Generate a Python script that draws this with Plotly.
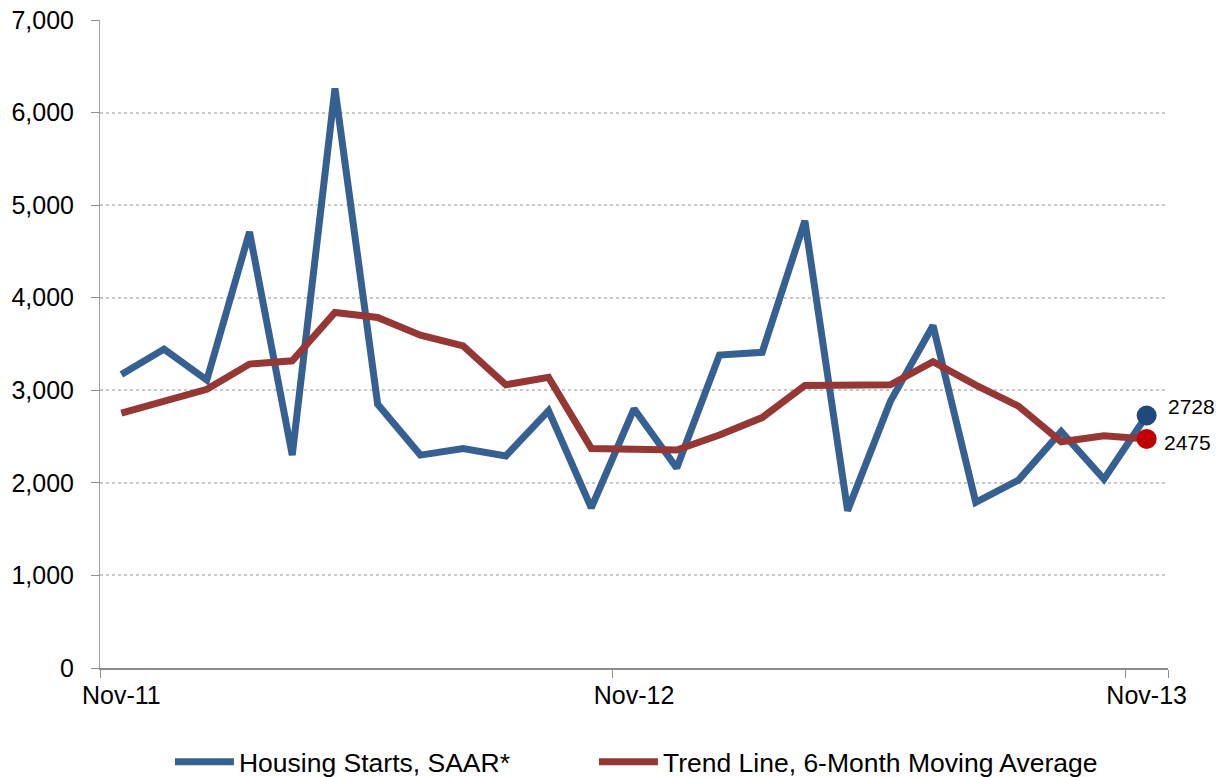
import plotly.graph_objects as go

months = ["Nov-11", "Dec-11", "Jan-12", "Feb-12", "Mar-12", "Apr-12", "May-12", "Jun-12",
          "Jul-12", "Aug-12", "Sep-12", "Oct-12", "Nov-12", "Dec-12", "Jan-13", "Feb-13",
          "Mar-13", "Apr-13", "May-13", "Jun-13", "Jul-13", "Aug-13", "Sep-13", "Oct-13", "Nov-13"]

housing_starts = [3170, 3445, 3110, 4710, 2300, 6260, 2850, 2300, 2370, 2290,
                  2780, 1730, 2800, 2160, 3380, 3410, 4830, 1700, 2880, 3700,
                  1790, 2030, 2555, 2040, 2728]

trend_line = [2754, 2887, 3010, 3283, 3319, 3841, 3787, 3596, 3479, 3060,
              3139, 2372, 2372, 2354, 2516, 2705, 3052, 3056, 3060, 3308,
              3056, 2829, 2444, 2509, 2475]

tick_labels = ["Nov-11", "Nov-12", "Nov-13"]
last_starts_label = "2728"
last_trend_label = "2475"

FONT = "Arial, Liberation Sans, sans-serif"
BLUE = "#376092"
RED = "#953735"

fig = go.Figure()
fig.add_trace(go.Scatter(x=months, y=housing_starts, mode="lines",
                         name="Housing Starts, SAAR*", legend="legend",
                         line=dict(color=BLUE, width=7, shape="linear")))
fig.add_trace(go.Scatter(x=months, y=trend_line, mode="lines",
                         name="Trend Line, 6-Month Moving Average", legend="legend2",
                         line=dict(color=RED, width=7)))
fig.add_trace(go.Scatter(x=[months[-1]], y=[housing_starts[-1]], mode="markers",
                         marker=dict(color="#1F497D", size=20), showlegend=False,
                         cliponaxis=False))
fig.add_trace(go.Scatter(x=[months[-1]], y=[trend_line[-1]], mode="markers",
                         marker=dict(color="#C00000", size=20), showlegend=False,
                         cliponaxis=False))

fig.add_annotation(x=months[-1], y=housing_starts[-1], text=last_starts_label,
                   showarrow=False, xanchor="left", yanchor="middle",
                   xshift=19, yshift=9, font=dict(family=FONT, size=21, color="black"))
fig.add_annotation(x=months[-1], y=trend_line[-1], text=last_trend_label,
                   showarrow=False, xanchor="left", yanchor="middle",
                   xshift=15, yshift=-4, font=dict(family=FONT, size=21, color="black"))

legend_style = dict(orientation="h", yanchor="middle", y=-0.145, xanchor="left",
                    font=dict(family=FONT, size=26.5, color="black"), itemwidth=59,
                    bgcolor="rgba(0,0,0,0)")

# Figure is slightly larger than the window so the bottom legend does not push margins.
fig.update_layout(
    width=1240, height=800,
    margin=dict(l=100, r=72, t=20, b=132),
    paper_bgcolor="white", plot_bgcolor="white",
    font=dict(family=FONT, size=25, color="black"),
    showlegend=True,
    legend=dict(legend_style, x=0.0655),
    legend2=dict(legend_style, x=0.4625),
)

fig.update_xaxes(
    type="category", categoryorder="array", categoryarray=months,
    range=[-0.5, len(months) - 0.5],
    tickmode="array", tickvals=tick_labels, ticktext=tick_labels, tickangle=0,
    tickson="boundaries", ticks="outside", ticklen=8, tickwidth=1, tickcolor="#8c8c8c",
    showline=True, linecolor="#8c8c8c", linewidth=2,
    showgrid=False, zeroline=False, automargin=False, ticklabelstandoff=4,
    ticklabeloverflow="allow",
    tickfont=dict(family=FONT, size=25, color="black"),
)

fig.update_yaxes(
    range=[0, 7000], tickmode="linear", tick0=0, dtick=1000, tickformat=",",
    ticks="outside", ticklen=8, tickwidth=1, tickcolor="#8c8c8c",
    showline=True, linecolor="#a0a0a0", linewidth=1,
    showgrid=True, gridcolor="#c8c8c8", gridwidth=2, griddash="dot",
    zeroline=False, automargin=False, ticklabelstandoff=12,
    ticklabeloverflow="allow",
    tickfont=dict(family=FONT, size=25, color="black"),
)

fig.write_html(
    "out.html",
    config={"displayModeBar": False},
    post_script="document.body.style.margin='0';document.body.style.overflow='hidden';",
)
